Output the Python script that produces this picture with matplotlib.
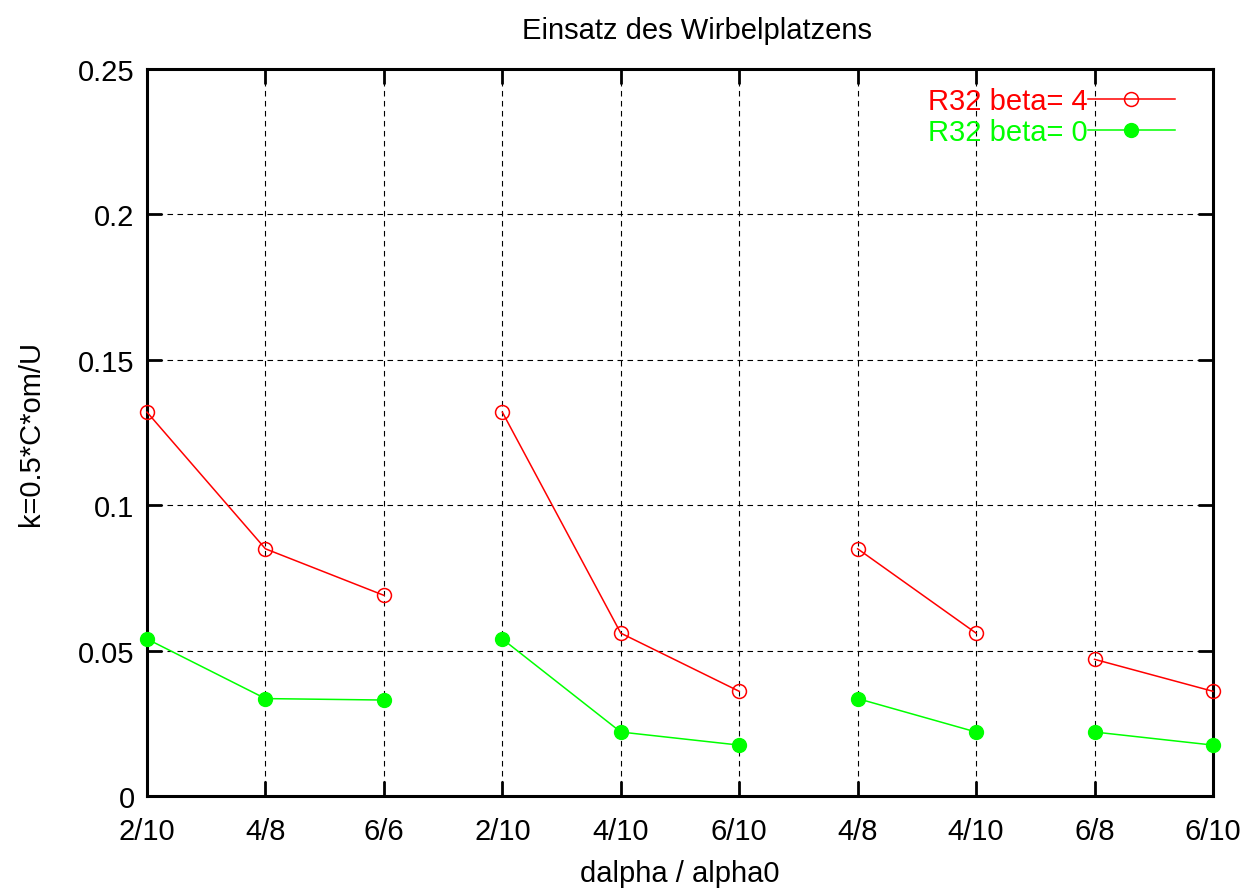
import matplotlib
matplotlib.use("Agg")
import matplotlib.pyplot as plt
from matplotlib.ticker import FuncFormatter

plt.rcParams['font.family'] = ['Liberation Sans', 'DejaVu Sans']

categories = ["2/10", "4/8", "6/6", "2/10", "4/10", "6/10", "4/8", "4/10", "6/8", "6/10"]
groups = [0, 0, 0, 1, 1, 1, 2, 2, 3, 3]
beta4 = [0.132, 0.085, 0.069, 0.132, 0.056, 0.036, 0.085, 0.056, 0.047, 0.036]
beta0 = [0.054, 0.0335, 0.033, 0.054, 0.022, 0.0175, 0.0335, 0.022, 0.022, 0.0175]
yticks = [0, 0.05, 0.1, 0.15, 0.2, 0.25]

fig = plt.figure(figsize=(12.55, 8.95), dpi=100)
ax = fig.add_axes([147/1255, 98/895, (1213-147)/1255, (797-70)/895])

fs = 21
x = list(range(len(categories)))
for g in sorted(set(groups)):
    idx = [i for i in x if groups[i] == g]
    ax.plot(idx, [beta4[i] for i in idx], color='#ff0000', lw=1.1, marker='o',
            ms=10, mfc='none', mec='#ff0000', mew=1.1, clip_on=False, zorder=3,
            label='R32 beta= 4' if g == 0 else None)
for g in sorted(set(groups)):
    idx = [i for i in x if groups[i] == g]
    ax.plot(idx, [beta0[i] for i in idx], color='#00ff00', lw=1.1, marker='o',
            ms=10, mfc='#00ff00', mec='#00ff00', clip_on=False, zorder=3,
            label='R32 beta= 0' if g == 0 else None)

ax.set_xlim(0, len(categories) - 1)
ax.set_ylim(0, 0.25)
ax.set_xticks(x)
ax.set_xticklabels(categories)
ax.set_yticks(yticks)
ax.yaxis.set_major_formatter(FuncFormatter(lambda v, p: "%g" % v))
ax.grid(True, color='black', ls=(0, (5, 4)), lw=0.8)
ax.tick_params(direction='in', length=11, width=2, top=True, right=True,
               labelsize=fs)
ax.tick_params(axis='x', pad=15)
ax.tick_params(axis='y', pad=9)
for s in ax.spines.values():
    s.set_linewidth(2.2)

ttl = ax.set_title("Einsatz des Wirbelplatzens", fontsize=fs, pad=22)
ttl.set_x(0.516)
ax.set_xlabel("dalpha / alpha0", fontsize=fs, labelpad=10)
ax.set_ylabel("k=0.5*C*om/U", fontsize=fs, labelpad=24)

leg = ax.legend(loc='upper right', bbox_to_anchor=(1 - 38/1066, 1 - 18/727),
                frameon=False, markerfirst=False, handlelength=3,
                handletextpad=0.0, labelspacing=0.1, fontsize=fs,
                borderpad=0, borderaxespad=0)
for t, c in zip(leg.get_texts(), ['#ff0000', '#00ff00']):
    t.set_color(c)

fig.savefig("out.png", dpi=100)
